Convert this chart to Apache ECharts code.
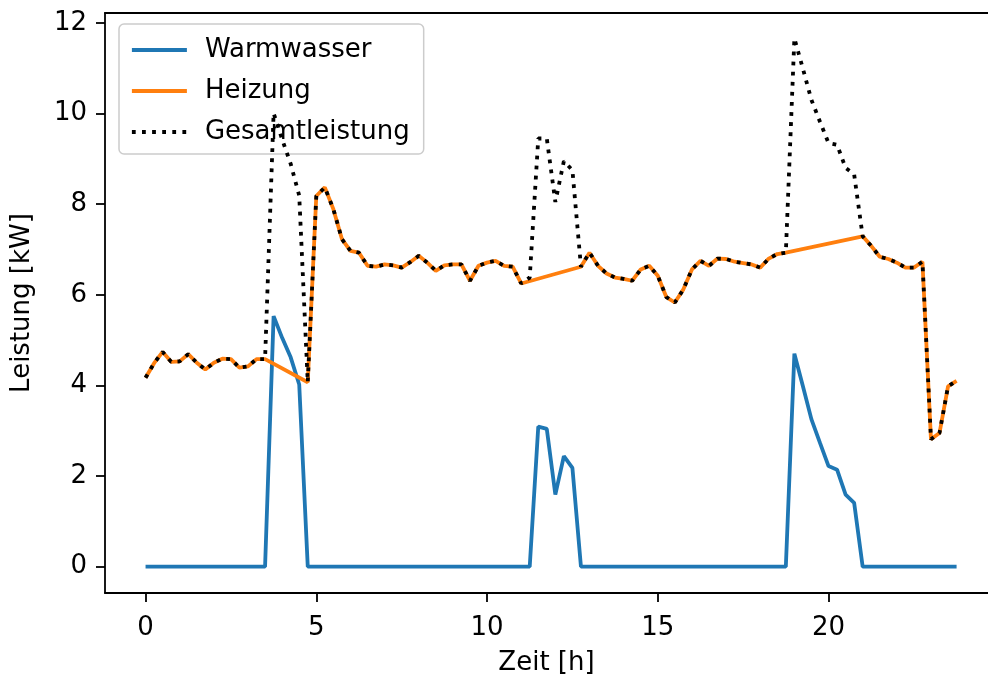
<!DOCTYPE html>
<html>
<head>
<meta charset="utf-8">
<script src="https://cdn.jsdelivr.net/npm/echarts@6/dist/echarts.min.js"></script>
<style>
  html, body { margin: 0; padding: 0; background: #fff; }
  #chart { width: 988px; height: 681px; }
</style>
</head>
<body>
<div id="chart"></div>
<script>
// Time of day in hours (quarter-hour steps)
const hours = [
  0, 0.25, 0.5, 0.75, 1, 1.25, 1.5, 1.75, 2, 2.25, 2.5, 2.75,
  3, 3.25, 3.5, 3.75, 4, 4.25, 4.5, 4.75, 5, 5.25, 5.5, 5.75,
  6, 6.25, 6.5, 6.75, 7, 7.25, 7.5, 7.75, 8, 8.25, 8.5, 8.75,
  9, 9.25, 9.5, 9.75, 10, 10.25, 10.5, 10.75, 11, 11.25, 11.5, 11.75,
  12, 12.25, 12.5, 12.75, 13, 13.25, 13.5, 13.75, 14, 14.25, 14.5, 14.75,
  15, 15.25, 15.5, 15.75, 16, 16.25, 16.5, 16.75, 17, 17.25, 17.5, 17.75,
  18, 18.25, 18.5, 18.75, 19, 19.25, 19.5, 19.75, 20, 20.25, 20.5, 20.75,
  21, 21.25, 21.5, 21.75, 22, 22.25, 22.5, 22.75, 23, 23.25, 23.5, 23.75
];

// Hot water power [kW]
const warmwasser = [
  0, 0, 0, 0, 0, 0, 0, 0, 0, 0, 0, 0,
  0, 0, 0, 5.53, 5.05, 4.62, 4.02, 0, 0, 0, 0, 0,
  0, 0, 0, 0, 0, 0, 0, 0, 0, 0, 0, 0,
  0, 0, 0, 0, 0, 0, 0, 0, 0, 0, 3.09, 3.04,
  1.59, 2.44, 2.18, 0, 0, 0, 0, 0, 0, 0, 0, 0,
  0, 0, 0, 0, 0, 0, 0, 0, 0, 0, 0, 0,
  0, 0, 0, 0, 4.70, 3.98, 3.25, 2.73, 2.22, 2.14, 1.59, 1.41,
  0, 0, 0, 0, 0, 0, 0, 0, 0, 0, 0, 0
];

// Space heating power [kW]; null while hot water is being prepared
const heizung = [
  4.17, 4.49, 4.74, 4.52, 4.53, 4.69, 4.50, 4.35, 4.50, 4.59, 4.58, 4.39,
  4.42, 4.58, 4.58, null, null, null, null, 4.07, 8.18, 8.37, 7.89, 7.23,
  6.97, 6.93, 6.64, 6.62, 6.67, 6.65, 6.60, 6.72, 6.86, 6.71, 6.53, 6.65,
  6.67, 6.67, 6.31, 6.64, 6.71, 6.75, 6.64, 6.62, 6.25, null, null, null,
  null, null, null, 6.62, 6.93, 6.64, 6.47, 6.38, 6.35, 6.31, 6.56, 6.64,
  6.42, 5.95, 5.83, 6.12, 6.56, 6.75, 6.64, 6.80, 6.79, 6.73, 6.70, 6.67,
  6.60, 6.80, 6.90, 6.93, null, null, null, null, null, null, null, null,
  7.29, 7.08, 6.84, 6.79, 6.71, 6.60, 6.60, 6.73, 2.81, 2.95, 3.98, 4.10
];

// Total power [kW]
const gesamtleistung = [
  4.17, 4.49, 4.74, 4.52, 4.53, 4.69, 4.50, 4.35, 4.50, 4.59, 4.58, 4.39,
  4.42, 4.58, 4.58, 10.01, 9.43, 8.89, 8.19, 4.07, 8.18, 8.37, 7.89, 7.23,
  6.97, 6.93, 6.64, 6.62, 6.67, 6.65, 6.60, 6.72, 6.86, 6.71, 6.53, 6.65,
  6.67, 6.67, 6.31, 6.64, 6.71, 6.75, 6.64, 6.62, 6.25, 6.38, 9.45, 9.45,
  8.05, 8.95, 8.75, 6.62, 6.93, 6.64, 6.47, 6.38, 6.35, 6.31, 6.56, 6.64,
  6.42, 5.95, 5.83, 6.12, 6.56, 6.75, 6.64, 6.80, 6.79, 6.73, 6.70, 6.67,
  6.60, 6.80, 6.90, 6.93, 11.66, 10.99, 10.30, 9.82, 9.35, 9.31, 8.80, 8.66,
  7.29, 7.08, 6.84, 6.79, 6.71, 6.60, 6.60, 6.73, 2.81, 2.95, 3.98, 4.10
];

const xTicks = [0, 5, 10, 15, 20];
const yTicks = [0, 2, 4, 6, 8, 10, 12];

const pairs = vals => hours.map((h, i) => [h, vals[i]]);

const FONT = '"DejaVu Sans", sans-serif';
const FS = 26;
const AXIS_COLOR = '#000';
const LW = 3.8;

const chart = echarts.init(document.getElementById('chart'), null, { renderer: 'canvas' });

chart.setOption({
  backgroundColor: '#fff',
  animation: false,
  grid: { left: 105, right: 0, top: 13, bottom: 87.5, containLabel: false },
  legend: {
    orient: 'vertical',
    left: 119,
    top: 24,
    padding: [12, 14, 8, 11],
    itemWidth: 55,
    itemHeight: 14,
    itemGap: 13,
    itemStyle: { opacity: 0 },
    lineStyle: { width: LW },
    backgroundColor: 'rgba(255,255,255,0.8)',
    borderColor: '#cccccc',
    borderWidth: 1.5,
    borderRadius: 5,
    textStyle: {
      fontFamily: FONT, fontSize: FS, color: '#000', lineHeight: 28,
      padding: [0, 0, 0, 13]
    },
    data: ['Warmwasser', 'Heizung', 'Gesamtleistung']
  },
  xAxis: [{
    type: 'value',
    min: -1.1875,
    max: 24.67,
    position: 'bottom',
    name: 'Zeit [h]',
    nameLocation: 'middle',
    nameGap: 57,
    nameTextStyle: { fontFamily: FONT, fontSize: FS, color: '#000' },
    splitLine: { show: false },
    axisLine: { show: true, onZero: false, lineStyle: { color: AXIS_COLOR, width: 1.8 } },
    axisTick: { show: true, inside: false, length: 9, customValues: xTicks,
      lineStyle: { color: AXIS_COLOR, width: 1.8 } },
    axisLabel: { show: true, margin: 22, customValues: xTicks,
      fontFamily: FONT, fontSize: FS, color: '#000' }
  }, {
    type: 'value',
    min: -1.1875,
    max: 24.67,
    position: 'top',
    splitLine: { show: false },
    axisLine: { show: true, onZero: false, lineStyle: { color: AXIS_COLOR, width: 1.8 } },
    axisTick: { show: false },
    axisLabel: { show: false }
  }],
  yAxis: {
    type: 'value',
    min: -0.582,
    max: 12.22,
    name: 'Leistung [kW]',
    nameLocation: 'middle',
    nameGap: 70,
    nameRotate: 90,
    nameTextStyle: { fontFamily: FONT, fontSize: FS, color: '#000' },
    splitLine: { show: false },
    axisLine: { show: true, onZero: false, lineStyle: { color: AXIS_COLOR, width: 1.8 } },
    axisTick: { show: true, inside: false, length: 9, customValues: yTicks,
      lineStyle: { color: AXIS_COLOR, width: 1.8 } },
    axisLabel: { show: true, margin: 18, customValues: yTicks,
      fontFamily: FONT, fontSize: FS, color: '#000' }
  },
  series: [
    {
      name: 'Warmwasser',
      type: 'line',
      data: pairs(warmwasser),
      showSymbol: false,
      symbol: 'none',
      color: '#1f77b4',
      lineStyle: { color: '#1f77b4', width: LW },
      z: 2
    },
    {
      name: 'Heizung',
      type: 'line',
      data: pairs(heizung),
      connectNulls: true,
      showSymbol: false,
      symbol: 'none',
      color: '#ff7f0e',
      lineStyle: { color: '#ff7f0e', width: LW },
      z: 3
    },
    {
      name: 'Gesamtleistung',
      type: 'line',
      data: pairs(gesamtleistung),
      showSymbol: false,
      symbol: 'none',
      color: '#000',
      lineStyle: { color: '#000', width: LW, type: [3.8, 6.3], cap: 'butt' },
      z: 4
    }
  ]
});
</script>
</body>
</html>
